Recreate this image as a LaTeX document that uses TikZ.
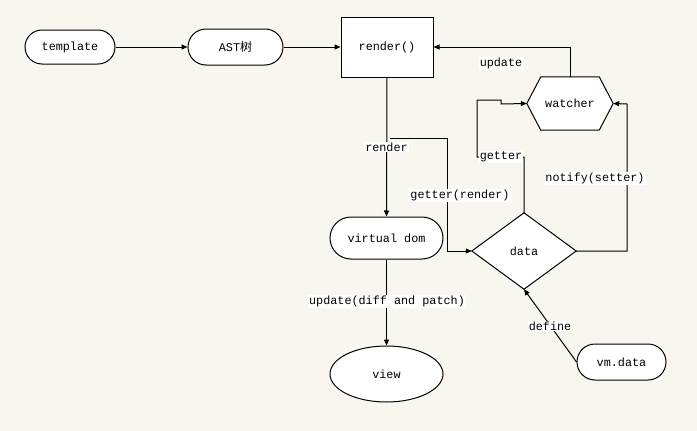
\documentclass[tikz,border=0pt]{standalone}
\usepackage{fontspec}
\setmainfont{Liberation Mono}
\newfontfamily\cjk{Noto Sans CJK SC}
\usetikzlibrary{arrows.meta,shapes.misc,shapes.geometric}
\definecolor{bg}{RGB}{249,246,239}
\tikzset{
  txt/.style={font=\rmfamily\fontsize{11.8}{14}\selectfont},
  base/.style={draw=black,line width=1pt,fill=white,inner sep=0pt,txt},
  pill/.style={base,rounded rectangle},
  boxnode/.style={base,rectangle},
  ghost/.style={rectangle,inner sep=0pt,txt},
  ovalnode/.style={base,ellipse},
  arr/.style={line width=1pt,-{Triangle[length=6pt,width=5pt]}},
  lbl/.style={fill=white,inner sep=1pt,txt},
  outline/.style={draw=black,line width=1pt,fill=white}
}
\begin{document}
\begin{tikzpicture}[x=1pt,y=-1pt]
\path[fill=bg] (0,0) rectangle (697,431);
\useasboundingbox (0,0) rectangle (697,431);

\node[pill,minimum width=90pt,minimum height=34pt] (tpl) at (70,47) {template};
\node[pill,minimum width=95pt,minimum height=36pt] (ast) at (235.5,47) {AST{\cjk\fontsize{12}{14}\selectfont 树}};
\node[boxnode,minimum width=92pt,minimum height=60pt] (rnd) at (387,47) {render()};
\node[pill,minimum width=113pt,minimum height=42pt] (vd) at (386.5,238) {virtual dom};
\node[ovalnode,minimum width=113pt,minimum height=56pt] (view) at (386.5,374) {view};
\node[pill,minimum width=89pt,minimum height=36pt] (vm) at (621.5,362) {vm.data};

% watcher hexagon
\node[ghost,minimum width=86pt,minimum height=53pt] (wat) at (570,103.5) {};
\path[outline] (wat.west) -- ([xshift=14pt]wat.north west) -- ([xshift=-14pt]wat.north east)
  -- (wat.east) -- ([xshift=-14pt]wat.south east) -- ([xshift=14pt]wat.south west) -- cycle;
\node[ghost] (watt) at (wat.center) {watcher};

% data diamond
\node[ghost,minimum width=104pt,minimum height=76pt] (data) at (524,251) {};
\path[outline] (data.west) -- (data.north) -- (data.east) -- (data.south) -- cycle;
\node[ghost] (datat) at (data.center) {data};

\coordinate (gr) at (390,138);

% connectors
\draw[arr] (tpl.east) -- (ast.west);
\draw[arr] (ast.east) -- (rnd.west);
\draw[arr] (wat.north) |- (rnd.east);
\draw[arr] (rnd.south) -- (vd.north);
\draw[arr] (gr) -- (447,138) |- (data.west);
\draw[arr] (data.north) -- (524,157) -| (477,100) -- (501,100) -- (501,104) -- (wat.west);
\draw[arr] (data.east) -| (627,104) -- (wat.east);
\draw[arr] (vm.west) -- (data.south);
\draw[arr] (vd.south) -- (view.north);

% labels
\node[lbl] (l1) at (501,63) {update};
\node[lbl] (l2) at (386.5,147) {render};
\node[lbl] (l3) at (460,195) {getter(render)};
\node[lbl] (l4) at (501,157) {getter};
\node[lbl] (l5) at (595,178) {notify(setter)};
\node[lbl] (l6) at (387,301) {update(diff and patch)};
\node[lbl] (l7) at (550,326) {define};
\end{tikzpicture}
\end{document}
